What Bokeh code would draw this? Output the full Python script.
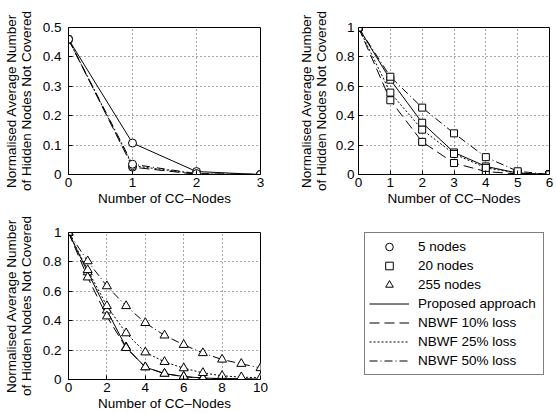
from bokeh.plotting import figure
from bokeh.layouts import column, row
from bokeh.models import Range1d, Legend, LegendItem, FixedTicker
from bokeh.embed import file_html
from bokeh.resources import INLINE

# ---------------- data ----------------
x5 = [0, 1, 2, 3]
n5_proposed = [0.46, 0.107, 0.010, 0.0]
n5_nbwf10 = [0.46, 0.025, 0.001, 0.0]
n5_nbwf25 = [0.46, 0.030, 0.002, 0.0]
n5_nbwf50 = [0.46, 0.035, 0.003, 0.0]

x20 = [0, 1, 2, 3, 4, 5, 6]
n20_proposed = [1.0, 0.645, 0.352, 0.150, 0.055, 0.010, 0.0]
n20_nbwf10 = [1.0, 0.505, 0.222, 0.078, 0.020, 0.004, 0.0]
n20_nbwf25 = [1.0, 0.557, 0.305, 0.140, 0.045, 0.010, 0.0]
n20_nbwf50 = [1.0, 0.665, 0.455, 0.280, 0.118, 0.022, 0.0]

x255 = [0, 1, 2, 3, 4, 5, 6, 7, 8, 9, 10]
n255_proposed = [1.0, 0.730, 0.470, 0.220, 0.084, 0.040, 0.020, 0.010, 0.006, 0.004, 0.003]
n255_nbwf10 = [1.0, 0.695, 0.430, 0.215, 0.084, 0.040, 0.020, 0.008, 0.005, 0.003, 0.002]
n255_nbwf25 = [1.0, 0.745, 0.500, 0.315, 0.185, 0.120, 0.077, 0.045, 0.025, 0.016, 0.012]
n255_nbwf50 = [1.0, 0.805, 0.635, 0.500, 0.385, 0.300, 0.236, 0.180, 0.136, 0.107, 0.078]

xticks_a = [0, 1, 2, 3]
xticks_b = [0, 1, 2, 3, 4, 5, 6]
xticks_c = [0, 2, 4, 6, 8, 10]
yticks_a = [0, 0.1, 0.2, 0.3, 0.4, 0.5]
ylabels_a = ["0", "0.1", "0.2", "0.3", "0.4", "0.5"]
yticks_b = [0, 0.2, 0.4, 0.6, 0.8, 1.0]
ylabels_b = ["0", "0.2", "0.4", "0.6", "0.8", "1"]

series_names = ["Proposed approach", "NBWF 10% loss", "NBWF 25% loss", "NBWF 50% loss"]
node_labels = ["5 nodes", "20 nodes", "255 nodes"]

FONT = "Liberation Sans"
FS = "13.5px"
DASHES = ["solid", "10 5", "2 2", "8 3 1 3"]
MARKERS = ["circle", "square", "triangle"]
MSIZES = [8, 7, 9]
LEG_MSIZES = [6, 5, 7]
YLABEL = "Normalised Average Number\nof Hidden Nodes Not Covered"


def make_fig(xr, yr, xt, yt, ylab, w, h, left, right, top, bottom, ystand, ylabstand):
    p = figure(width=w, height=h, output_backend="svg", toolbar_location=None,
               x_range=Range1d(*xr), y_range=Range1d(*yr),
               min_border_left=left, min_border_right=right,
               min_border_top=top, min_border_bottom=bottom)
    p.outline_line_color = "black"
    p.outline_line_width = 1
    p.background_fill_color = "white"
    p.border_fill_color = "white"
    for ax in (p.xaxis[0], p.yaxis[0]):
        ax.axis_line_color = "black"
        ax.major_tick_line_color = "black"
        ax.major_tick_in = 4
        ax.major_tick_out = 0
        ax.minor_tick_line_color = None
        ax.major_label_text_font = FONT
        ax.major_label_text_font_size = FS
        ax.major_label_text_color = "black"
        ax.axis_label_text_font = FONT
        ax.axis_label_text_font_size = FS
        ax.axis_label_text_font_style = "normal"
        ax.axis_label_text_color = "black"
        ax.axis_label_text_line_height = 1.0
    p.xaxis.ticker = FixedTicker(ticks=xt)
    p.yaxis.ticker = FixedTicker(ticks=yt)
    p.yaxis.major_label_overrides = {t: l for t, l in zip(yt, ylab)}
    p.xaxis.axis_label = "Number of CC\u2013Nodes"
    p.yaxis.axis_label = YLABEL
    p.xaxis.major_label_standoff = 3
    p.xaxis.axis_label_standoff = 1
    p.yaxis.major_label_standoff = ystand
    p.yaxis.axis_label_standoff = ylabstand
    for g in (p.xgrid[0], p.ygrid[0]):
        g.grid_line_color = "black"
        g.grid_line_dash = "1 3"
        g.grid_line_alpha = 0.7
    return p


def add_series(p, xs, ys_list, marker, size):
    for ys, dash in zip(ys_list, DASHES):
        p.line(xs, ys, line_color="black", line_width=1, line_dash=dash)
    for ys in ys_list:
        p.scatter(xs, ys, marker=marker, size=size, fill_color="white",
                  line_color="black", line_width=1)


p1 = make_fig((0, 3), (0, 0.5), xticks_a, yticks_a, ylabels_a, 278, 213, 67, 18, 27, 39, 7, 6)
add_series(p1, x5, [n5_proposed, n5_nbwf10, n5_nbwf25, n5_nbwf50], MARKERS[0], MSIZES[0])

p2 = make_fig((0, 6), (0, 1), xticks_b, yticks_b, ylabels_b, 278, 213, 80, 7, 27, 39, 4, 4)
add_series(p2, x20, [n20_proposed, n20_nbwf10, n20_nbwf25, n20_nbwf50], MARKERS[1], MSIZES[1])

p3 = make_fig((0, 10), (0, 1), xticks_c, yticks_b, ylabels_b, 278, 200, 67, 18, 19, 34, 7, 6)
add_series(p3, x255, [n255_proposed, n255_nbwf10, n255_nbwf25, n255_nbwf50], MARKERS[2], MSIZES[2])

# legend panel (its frame lines up with p3's frame inside the row)
p4 = figure(width=278, height=200, output_backend="svg", toolbar_location=None,
            x_range=Range1d(0, 1), y_range=Range1d(0, 1), min_border=0)
p4.axis.visible = False
p4.grid.visible = False
p4.outline_line_color = None
items = []
for lab, mk, sz in zip(node_labels, MARKERS, LEG_MSIZES):
    r = p4.scatter(x=[-50], y=[-50], marker=mk, size=sz, fill_color="white",
                   line_color="black", line_width=1)
    items.append(LegendItem(label=lab, renderers=[r]))
for lab, dash in zip(series_names, DASHES):
    r = p4.line(x=[-50, -60], y=[-50, -60], line_color="black", line_width=1, line_dash=dash)
    items.append(LegendItem(label=lab, renderers=[r]))
leg = Legend(items=items, location=(86, 4))
leg.title = None
leg.title_standoff = 0
leg.title_text_font_size = "0px"
leg.label_text_font = FONT
leg.label_text_font_size = FS
leg.label_text_color = "black"
leg.label_text_line_height = 1.0
leg.glyph_width = 40
leg.glyph_height = 19
leg.label_height = 19
leg.label_width = 121
leg.spacing = 0
leg.padding = 4
leg.margin = 0
leg.label_standoff = 9
leg.border_line_color = "black"
leg.border_line_width = 1
leg.background_fill_color = "white"
leg.background_fill_alpha = 1
p4.add_layout(leg, "center")

layout = column(row(p1, p2), row(p3, p4))
open("out.html", "w").write(file_html(layout, INLINE))
